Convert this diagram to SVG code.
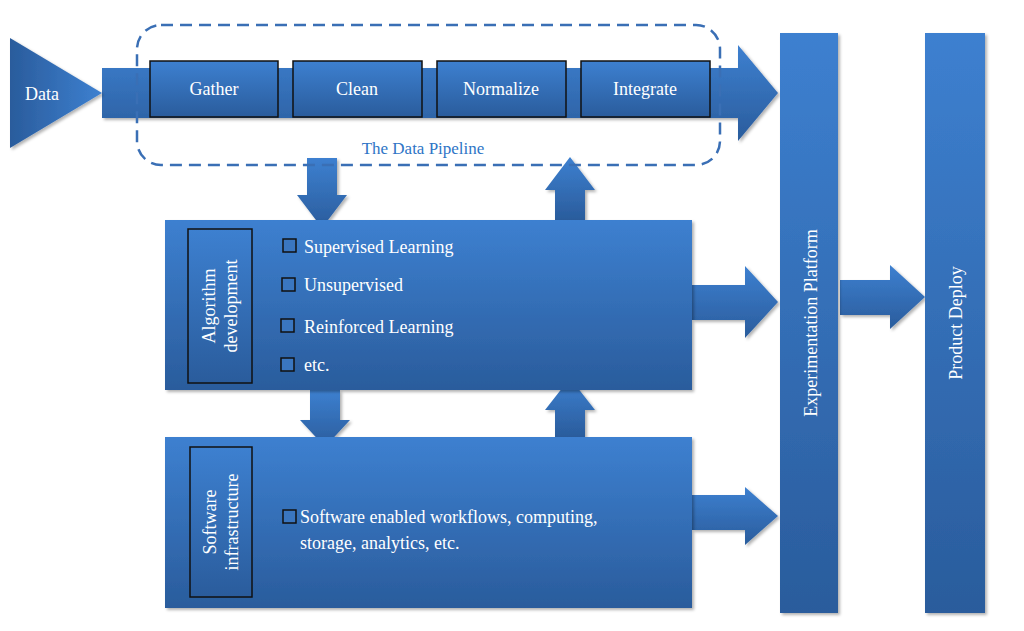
<svg xmlns="http://www.w3.org/2000/svg" width="1024" height="631" viewBox="0 0 1024 631">
<defs>
<linearGradient id="g" x1="0" y1="0" x2="0" y2="1"><stop offset="0" stop-color="#3d80d0"/><stop offset="1" stop-color="#2a5c9c"/></linearGradient>
<linearGradient id="gh" x1="0" y1="0" x2="1" y2="0"><stop offset="0" stop-color="#2a5c9c"/><stop offset="1" stop-color="#3d80d0"/></linearGradient>
<filter id="sh" x="-10%" y="-10%" width="130%" height="130%"><feDropShadow dx="2" dy="2" stdDeviation="1.5" flood-color="#000" flood-opacity="0.3"/></filter>
</defs>
<style>
.b{fill:url(#g);filter:url(#sh)}
.bx{fill:url(#g);stroke:#111;stroke-width:1.5}
.t{font-family:"Liberation Serif",serif;fill:#fff;font-size:18px}
.sq{fill:#3a76c0;stroke:#111;stroke-width:1.5}
</style>
<rect width="1024" height="631" fill="#fff"/>
<g id="connectors">
<path class="b" d="M102,68 H738 V45 L778,93 L738,141 V118 H102 Z"/>
<path class="b" d="M307,158 H337 V195 H347 L322,228 L297,195 H307 Z"/>
<path class="b" d="M555,220 V190 H545 L570,157 L595,190 H585 V220 Z"/>
<path class="b" d="M310,390 H340 V420 H350 L325,447 L300,420 H310 Z"/>
<path class="b" d="M555,437 V410 H545 L570,378 L595,410 H585 V437 Z"/>
<path class="b" d="M692,285 H745 V266 L778,302 L745,338 V320 H692 Z"/>
<path class="b" d="M692,495 H745 V487 L778,516 L745,545 V530 H692 Z"/>
<path class="b" d="M840,280 H890 V265 L925,297 L890,329 V315 H840 Z"/>
</g>
<g id="data"><path d="M10,38 L102,93 L10,148 Z" fill="url(#gh)" filter="url(#sh)"/><text class="t" x="42" y="100" text-anchor="middle">Data</text></g>
<g id="pipeline">
<rect x="137" y="25" width="583" height="140" rx="24" fill="none" stroke="#3a6fb5" stroke-width="2.5" stroke-dasharray="12,7"/>
<text x="423" y="154" text-anchor="middle" font-family="Liberation Serif,serif" font-size="17" fill="#2e75c6">The Data Pipeline</text>
</g>
<g id="gather"><rect class="bx" x="150" y="61" width="128" height="56"/><text class="t" x="214" y="95" text-anchor="middle">Gather</text></g>
<g id="clean"><rect class="bx" x="293" y="61" width="129" height="56"/><text class="t" x="357" y="95" text-anchor="middle">Clean</text></g>
<g id="normalize"><rect class="bx" x="437" y="61" width="129" height="56"/><text class="t" x="501" y="95" text-anchor="middle">Normalize</text></g>
<g id="integrate"><rect class="bx" x="581" y="61" width="129" height="56"/><text class="t" x="645" y="95" text-anchor="middle">Integrate</text></g>
<g id="algorithm">
<rect class="b" x="165" y="220" width="527" height="170"/>
<rect class="bx" x="188" y="229" width="64" height="154"/>
<text class="t" transform="translate(220,306) rotate(-90)" text-anchor="middle"><tspan x="0" y="-5">Algorithm</tspan><tspan x="0" y="17">development</tspan></text>
<rect class="sq" x="283" y="239" width="13" height="13"/><text class="t" x="304" y="253">Supervised Learning</text>
<rect class="sq" x="282" y="278" width="13" height="13"/><text class="t" x="304" y="291">Unsupervised</text>
<rect class="sq" x="281" y="319" width="13" height="13"/><text class="t" x="304" y="333">Reinforced Learning</text>
<rect class="sq" x="281" y="358" width="13" height="13"/><text class="t" x="304" y="371">etc.</text>
</g>
<g id="software">
<rect class="b" x="165" y="437" width="527" height="171"/>
<rect class="bx" x="190" y="447" width="62" height="150"/>
<text class="t" transform="translate(221,522) rotate(-90)" text-anchor="middle"><tspan x="0" y="-5">Software</tspan><tspan x="0" y="17">infrastructure</tspan></text>
<rect class="sq" x="283" y="510" width="13" height="13"/>
<text class="t" x="300" y="523">Software enabled workflows, computing,</text>
<text class="t" x="300" y="549">storage, analytics, etc.</text>
</g>
<g id="experimentation"><rect class="b" x="780" y="33" width="58" height="580"/><text class="t" transform="translate(817,323) rotate(-90)" text-anchor="middle">Experimentation Platform</text></g>
<g id="deploy"><rect class="b" x="925" y="33" width="60" height="580"/><text class="t" transform="translate(962,323) rotate(-90)" text-anchor="middle">Product Deploy</text></g>
</svg>
